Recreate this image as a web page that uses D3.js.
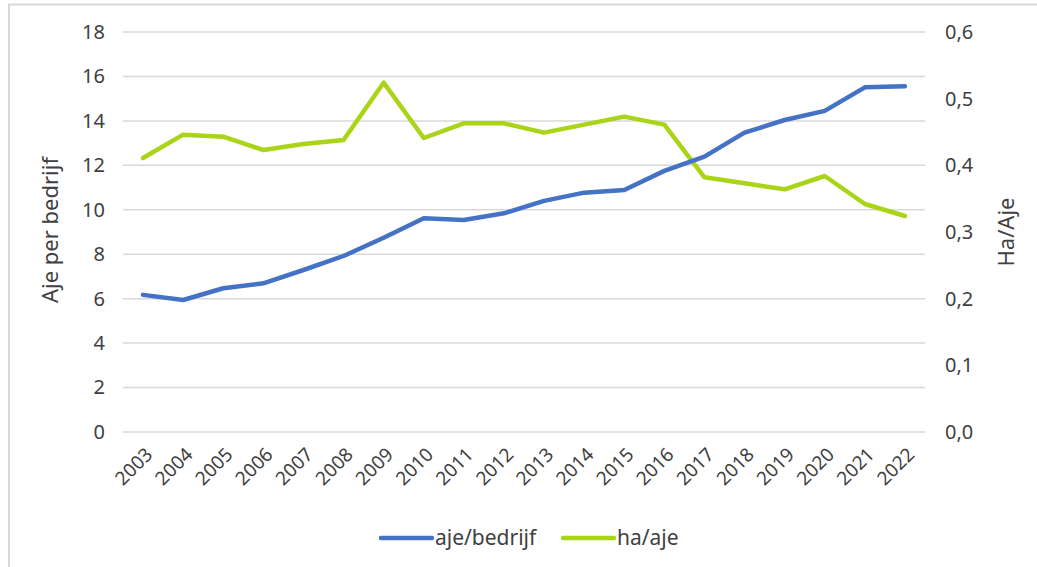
<!DOCTYPE html>
<html>
<head>
<meta charset="utf-8">
<script src="https://cdn.jsdelivr.net/npm/d3@7"></script>
<style>
  body { margin: 0; background: #fff; }
  text { font-family: "Noto Sans", "Open Sans", sans-serif; fill: #404040; }
</style>
</head>
<body>
<div class="vis-holder"></div>
<script>
// years on the x-axis
var years = ["2003","2004","2005","2006","2007","2008","2009","2010","2011","2012",
             "2013","2014","2015","2016","2017","2018","2019","2020","2021","2022"];
// aje per bedrijf (left axis)
var ajePerBedrijf = [6.17, 5.94, 6.47, 6.69, 7.29, 7.92, 8.74, 9.62, 9.54, 9.84,
                     10.4, 10.77, 10.89, 11.75, 12.39, 13.47, 14.04, 14.45, 15.51, 15.56];
// ha per aje (right axis)
var haPerAje = [0.411, 0.446, 0.443, 0.423, 0.432, 0.438, 0.524, 0.441, 0.463, 0.463,
                0.449, 0.461, 0.473, 0.461, 0.382, 0.373, 0.364, 0.384, 0.342, 0.324];
// tick values
var leftTicks = [0, 2, 4, 6, 8, 10, 12, 14, 16, 18];
var rightTicks = [0, 0.1, 0.2, 0.3, 0.4, 0.5, 0.6];

var width = 1037;
var height = 567;
var margin = { top: 32, bottom: 135, left: 123, right: 112 };

var svg = d3.select(".vis-holder")
            .append("svg")
            .attr("width", width)
            .attr("height", height);

// outer frame (runs off the right and bottom edges)
svg.append("path")
   .attr("d", "M9," + (height + 5) + "V4.5H" + (width + 5))
   .attr("fill", "none")
   .attr("stroke", "#d9d9d9")
   .attr("stroke-width", 2);

var xScale = d3.scaleBand()
               .domain(years)
               .range([margin.left, width - margin.right]);

var yLeft = d3.scaleLinear()
              .domain([0, 18])
              .range([height - margin.bottom, margin.top]);

var yRight = d3.scaleLinear()
               .domain([0, 0.6])
               .range([height - margin.bottom, margin.top]);

// horizontal gridlines from left axis
svg.append("g")
   .selectAll("line")
   .data(leftTicks)
   .enter()
   .append("line")
   .attr("x1", margin.left)
   .attr("x2", width - margin.right)
   .attr("y1", function(d) { return yLeft(d); })
   .attr("y2", function(d) { return yLeft(d); })
   .attr("stroke", "#d9d9d9")
   .attr("stroke-width", 1.5);

// left axis labels
var leftAxis = svg.append("g")
                  .attr("transform", "translate(" + (margin.left - 18) + ",0)")
                  .call(d3.axisLeft(yLeft).tickValues(leftTicks).tickSize(0).tickPadding(0));
leftAxis.select(".domain").remove();
leftAxis.selectAll("text").style("font-size", "20px").attr("fill", "#404040");

// right axis labels
var fmt = function(d) { return d3.format(".1f")(d).replace(".", ","); };
var rightAxis = svg.append("g")
                   .attr("transform", "translate(" + (width - margin.right + 20) + ",0)")
                   .call(d3.axisRight(yRight).tickValues(rightTicks).tickFormat(fmt).tickSize(0).tickPadding(0));
rightAxis.select(".domain").remove();
rightAxis.selectAll("text").style("font-size", "20px").attr("fill", "#404040");

// x-axis labels, rotated
svg.append("g")
   .selectAll("text")
   .data(years)
   .enter()
   .append("text")
   .attr("text-anchor", "end")
   .attr("dy", "0.35em")
   .attr("transform", function(d) {
     return "translate(" + (xScale(d) + xScale.bandwidth() / 2 + 6) + "," + (height - margin.bottom + 19) + ")rotate(-45)";
   })
   .style("font-size", "19px")
   .text(function(d) { return d; });

// lines
var lineLeft = d3.line()
                 .x(function(d, i) { return xScale(years[i]) + xScale.bandwidth() / 2; })
                 .y(function(d) { return yLeft(d); });
var lineRight = d3.line()
                  .x(function(d, i) { return xScale(years[i]) + xScale.bandwidth() / 2; })
                  .y(function(d) { return yRight(d); });

svg.append("path")
   .attr("d", lineRight(haPerAje))
   .attr("fill", "none")
   .attr("stroke", "#a9d418")
   .attr("stroke-width", 4.5)
   .attr("stroke-linejoin", "round")
   .attr("stroke-linecap", "round");

svg.append("path")
   .attr("d", lineLeft(ajePerBedrijf))
   .attr("fill", "none")
   .attr("stroke", "#4472c4")
   .attr("stroke-width", 4.5)
   .attr("stroke-linejoin", "round")
   .attr("stroke-linecap", "round");

// axis titles
svg.append("text")
   .attr("text-anchor", "middle")
   .attr("transform", "translate(58," + 230 + ")rotate(-90)")
   .style("font-size", "22px")
   .text("Aje per bedrijf");

svg.append("text")
   .attr("text-anchor", "middle")
   .attr("transform", "translate(1014," + 232 + ")rotate(-90)")
   .style("font-size", "22px")
   .text("Ha/Aje");

// legend
var legend = [
  { name: "aje/bedrijf", color: "#4472c4", x: 381 },
  { name: "ha/aje", color: "#a9d418", x: 563 }
];
var lg = svg.append("g").selectAll("g").data(legend).enter().append("g");
lg.append("line")
  .attr("x1", function(d) { return d.x; })
  .attr("x2", function(d) { return d.x + 51; })
  .attr("y1", 538).attr("y2", 538)
  .attr("stroke", function(d) { return d.color; })
  .attr("stroke-width", 4.5)
  .attr("stroke-linecap", "round");
lg.append("text")
  .attr("x", function(d) { return d.x + 54; })
  .attr("y", 538)
  .attr("dy", "0.35em")
  .style("font-size", "21px")
  .text(function(d) { return d.name; });
</script>
</body>
</html>
